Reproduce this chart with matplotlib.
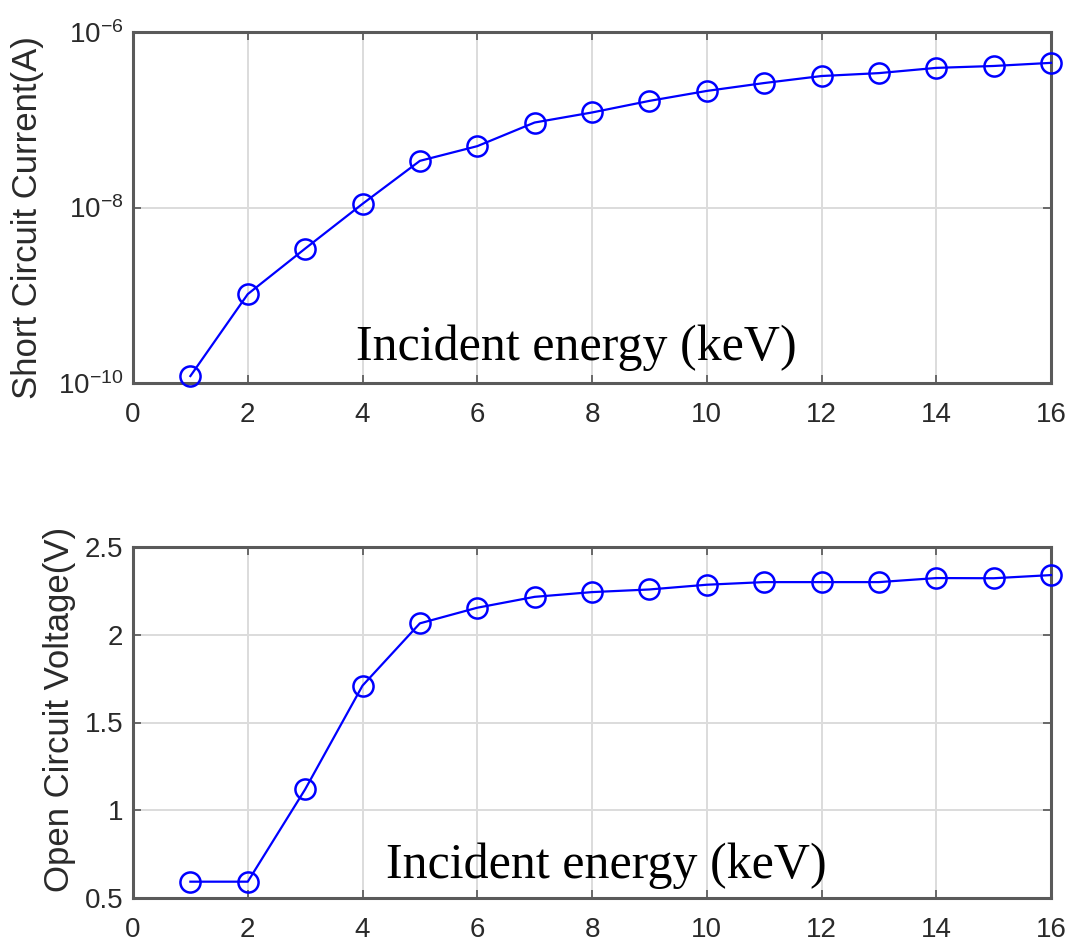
import math
import matplotlib
matplotlib.use("Agg")
import matplotlib.pyplot as plt
from matplotlib.ticker import FixedLocator, FuncFormatter

# Incident energy (keV)
energy = [1, 2, 3, 4, 5, 6, 7, 8, 9, 10, 11, 12, 13, 14, 15, 16]

# Short circuit current (A)
isc = [1.2e-10, 1.03e-9, 3.4e-9, 1.1e-8, 3.4e-8, 5.0e-8, 9.3e-8, 1.21e-7,
       1.64e-7, 2.13e-7, 2.62e-7, 3.15e-7, 3.4e-7, 3.9e-7, 4.1e-7, 4.45e-7]

# Open circuit voltage (V)
voc = [0.593, 0.593, 1.119, 1.71, 2.065, 2.154, 2.216, 2.243, 2.258, 2.285,
       2.30, 2.30, 2.30, 2.323, 2.322, 2.34]

x_ticks = [0, 2, 4, 6, 8, 10, 12, 14, 16]
isc_ticks = [1e-10, 1e-8, 1e-6]
voc_ticks = [0.5, 1, 1.5, 2, 2.5]

xlabel_text = "Incident energy (keV)"
isc_label = "Short Circuit Current(A)"
voc_label = "Open Circuit Voltage(V)"

plt.rcParams["font.family"] = ["Liberation Sans", "DejaVu Sans"]
plt.rcParams["mathtext.default"] = "regular"
plt.rcParams["axes.unicode_minus"] = False

W, H = 1077, 949
fig = plt.figure(figsize=(W / 100, H / 100), dpi=100)

left = 133 / W
width = (1051 - 133) / W
ax1 = fig.add_axes([left, 1 - 383 / H, width, 351 / H])
ax2 = fig.add_axes([left, 1 - 898 / H, width, 351 / H])

line_kw = dict(color="#0000ff", linewidth=1.6, marker="o", markersize=14.5,
               markerfacecolor="none", markeredgecolor="#0000ff",
               markeredgewidth=1.8, clip_on=False, zorder=5)

ax1.semilogy(energy, isc, **line_kw)
ax1.set_ylim(1e-10, 1e-6)
ax1.yaxis.set_major_locator(FixedLocator(isc_ticks))
ax1.yaxis.set_minor_locator(FixedLocator([]))
ax1.yaxis.set_major_formatter(
    FuncFormatter(lambda v, p: r"$10^{%d}$" % round(math.log10(v))))

ax2.plot(energy, voc, **line_kw)
ax2.set_ylim(0.5, 2.5)
ax2.yaxis.set_major_locator(FixedLocator(voc_ticks))
ax2.yaxis.set_major_formatter(FuncFormatter(lambda v, p: "%g" % v))

label_color = "#2a2a2a"
for ax in (ax1, ax2):
    ax.set_xlim(0, 16)
    ax.xaxis.set_major_locator(FixedLocator(x_ticks))
    ax.grid(True, color="#dcdcdc", linewidth=1.4)
    ax.set_axisbelow(True)
    for s in ax.spines.values():
        s.set_color("#5a5a5a")
        s.set_linewidth(2.2)
    ax.tick_params(direction="in", length=6, width=1.2, color="#555555",
                   top=True, right=True, labelsize=20, labelcolor=label_color)
    ax.tick_params(axis="x", pad=14)
    ax.tick_params(axis="y", pad=7)

# y labels are anchored at their right-hand (baseline) edge
ax1.set_ylabel(isc_label, fontsize=25, color=label_color)
ax1.yaxis.set_label_coords((44 - 133) / (1051 - 133), 0.47)
ax2.set_ylabel(voc_label, fontsize=25, color=label_color)
ax2.yaxis.set_label_coords((76 - 133) / (1051 - 133), 0.536)

serif = ["Liberation Serif", "DejaVu Serif"]
ax1.text(0.4826, 0.0655, xlabel_text, transform=ax1.transAxes, ha="center",
         va="baseline", fontsize=36, family=serif, color="black")
ax2.text(0.516, 0.057, xlabel_text, transform=ax2.transAxes, ha="center",
         va="baseline", fontsize=36, family=serif, color="black")

fig.savefig("out.png", dpi=100)
